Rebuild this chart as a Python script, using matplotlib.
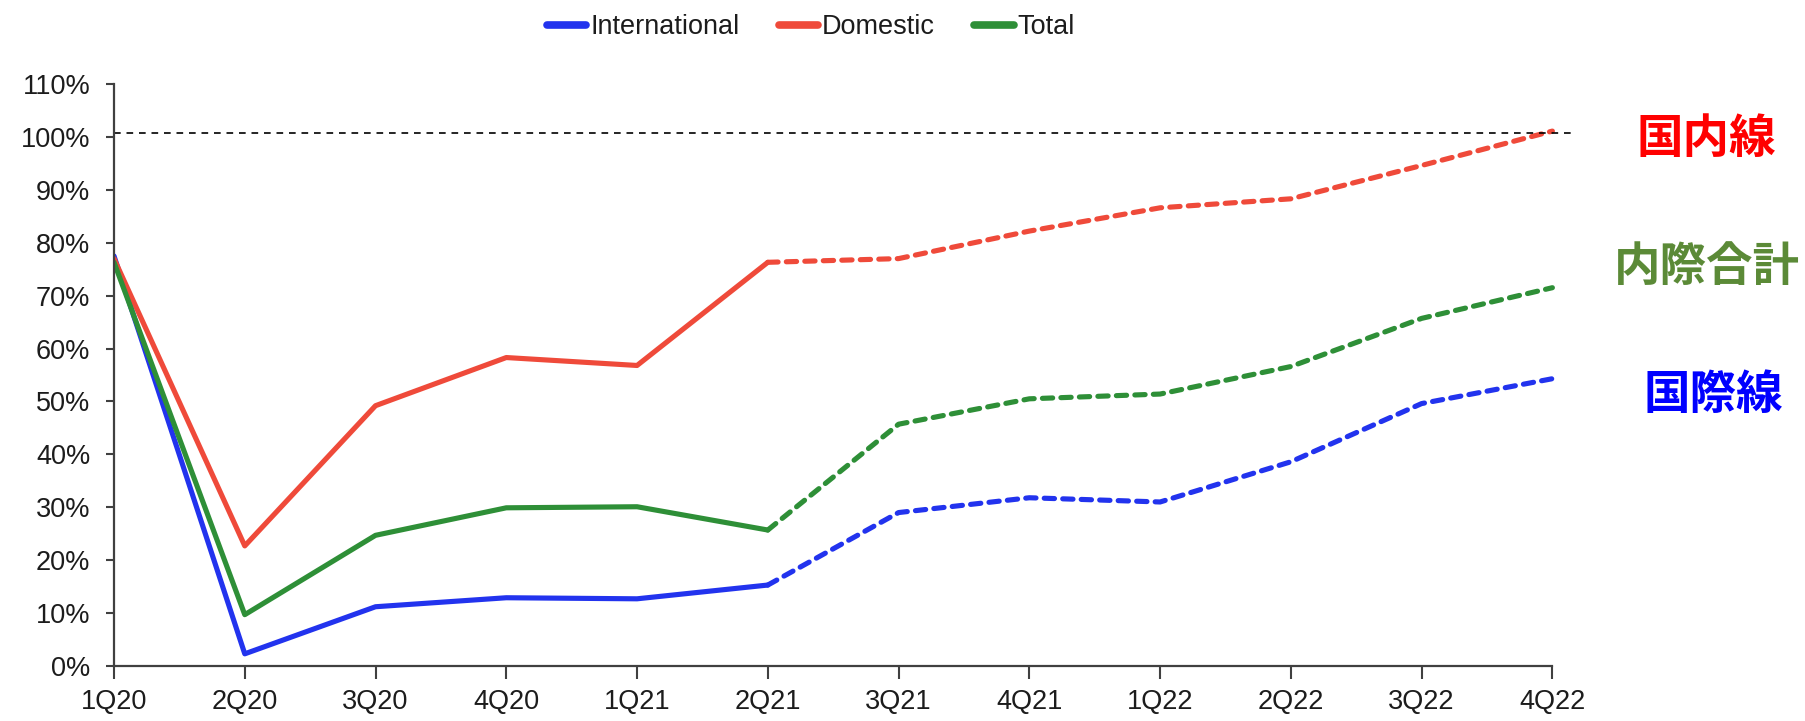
import matplotlib
matplotlib.use("Agg")
import matplotlib.pyplot as plt
from matplotlib import font_manager
from matplotlib.ticker import FuncFormatter

quarters = ["1Q20", "2Q20", "3Q20", "4Q20", "1Q21", "2Q21",
            "3Q21", "4Q21", "1Q22", "2Q22", "3Q22", "4Q22"]
international = [0.775, 0.023, 0.112, 0.129, 0.127, 0.153,
                 0.290, 0.318, 0.310, 0.386, 0.496, 0.543]
domestic = [0.770, 0.227, 0.492, 0.583, 0.568, 0.763,
            0.770, 0.822, 0.866, 0.883, 0.946, 1.011]
total = [0.763, 0.097, 0.247, 0.299, 0.301, 0.257,
         0.457, 0.505, 0.514, 0.566, 0.657, 0.715]
actual_end = 5          # 2Q21: last actual quarter, forecasts after
baseline = 1.008
yticks = [i / 10 for i in range(12)]

side_labels = ["国内線", "内際合計", "国際線"]
side_colors = ["#ff0000", "#5b8a37", "#0000ff"]

names = {f.name for f in font_manager.fontManager.ttflist}
narrow = "Liberation Sans Narrow" in names

plt.rcParams["font.family"] = ["Liberation Sans", "DejaVu Sans"]

W, H = 1805, 721
fig = plt.figure(figsize=(W / 100, H / 100), dpi=100)
x0, x1 = 114, 1572
y0, y1 = 666, 84
ax = fig.add_axes([x0 / W, 1 - y0 / H, (x1 - x0) / W, (y0 - y1) / H])

series = [("International", international, "#2233ee"),
          ("Domestic", domestic, "#ef4a3a"),
          ("Total", total, "#2e8f37")]
xs = list(range(len(quarters)))
for name, vals, col in series:
    ax.plot(xs[:actual_end + 1], vals[:actual_end + 1], color=col, lw=3.7,
            solid_capstyle="round", solid_joinstyle="round", label=name)
    ax.plot(xs[actual_end:], vals[actual_end:], color=col, lw=3.7,
            dashes=(2.0, 1.6), dash_capstyle="round")

ax.axhline(baseline, color="black", lw=1.2, dashes=(4, 3.5))

ax.set_xlim(0, 11.15)
ax.set_ylim(0, 1.10)
ax.set_xticks(xs)
ax.set_xticklabels(quarters)
ax.set_yticks(yticks)
ax.yaxis.set_major_formatter(FuncFormatter(lambda v, p: f"{v * 100:.0f}%"))
for s in ["top", "right"]:
    ax.spines[s].set_visible(False)
for s in ["left", "bottom"]:
    ax.spines[s].set_color("#404040")
    ax.spines[s].set_linewidth(1.6)
ax.spines["bottom"].set_bounds(0, 11)
ax.tick_params(axis="x", direction="out", length=9.5, width=1.5,
               color="#404040", labelsize=19.5, pad=7, labelcolor="#1c1c1c")
ax.tick_params(axis="y", direction="out", length=6, width=1.5,
               color="#404040", labelsize=19.5, pad=11, labelcolor="#1c1c1c")

if narrow:
    lfont = {"family": "Liberation Sans Narrow", "size": 22}
else:
    lfont = {"family": "Liberation Sans", "size": 19.5}
handles, labels = ax.get_legend_handles_labels()
leg = fig.legend(handles, labels, loc="center", ncol=3, frameon=False,
                 bbox_to_anchor=(811 / W, 1 - 27 / H), prop=lfont,
                 handlelength=1.45, handletextpad=0.15, columnspacing=1.45)
for ln in leg.get_lines():
    ln.set_linewidth(5.5)
    ln.set_solid_capstyle("round")
for t in leg.get_texts():
    t.set_color("#1c1c1c")

label_pos = [(1706, 139), (1707, 267), (1713, 395)]
for txt, col, (px, py) in zip(side_labels, side_colors, label_pos):
    fig.text(px / W, 1 - py / H, txt, color=col, fontsize=33.5, fontweight="bold",
             family=["Noto Sans CJK JP", "DejaVu Sans"], ha="center", va="center")

fig.savefig("out.png", dpi=100)
